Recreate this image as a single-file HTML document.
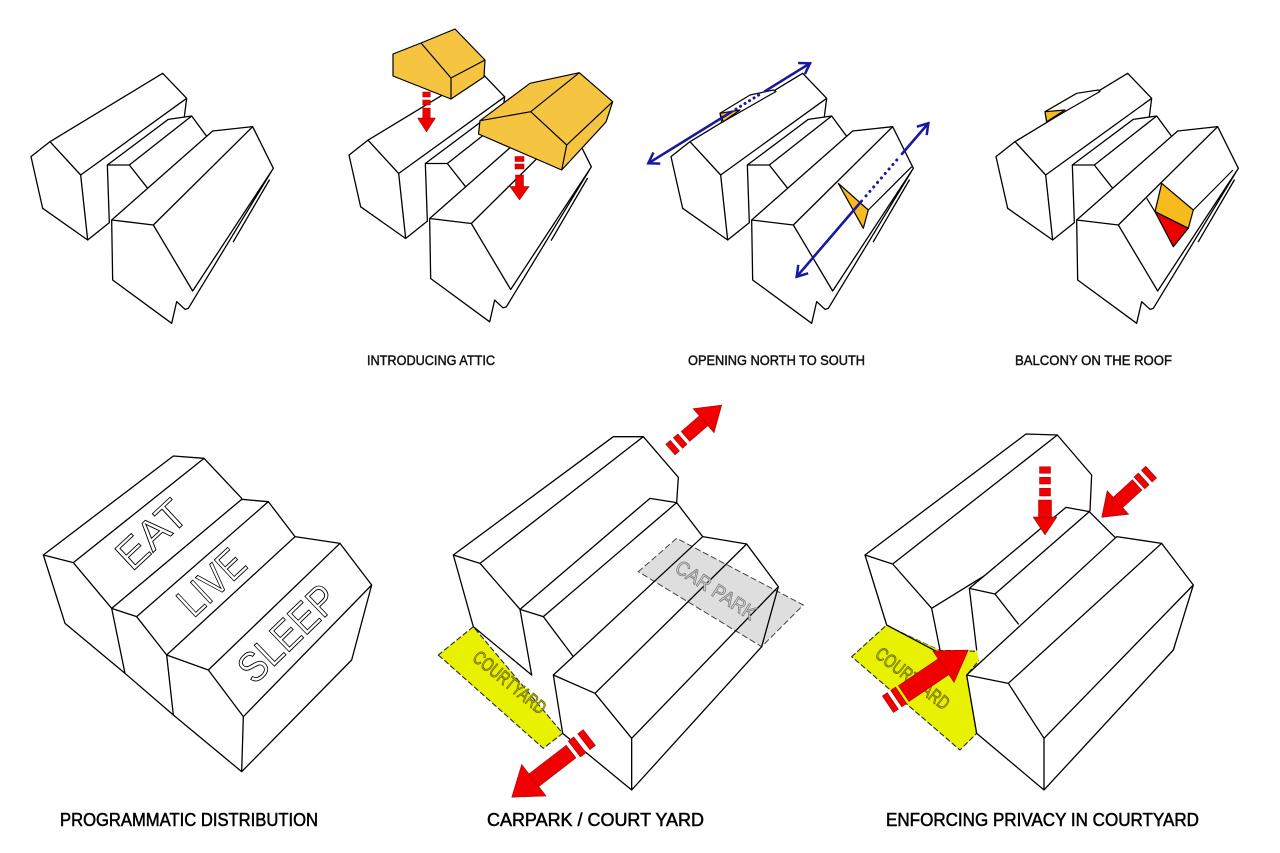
<!DOCTYPE html>
<html><head><meta charset="utf-8"><style>
html,body{margin:0;padding:0;background:#fff;}
svg{display:block;}
text{font-family:"Liberation Sans",sans-serif;}
</style></head><body>
<svg width="1280" height="853" viewBox="0 0 1280 853" xmlns="http://www.w3.org/2000/svg">
<defs>
<path id="bld" fill="none" stroke="#000" stroke-width="3.9" stroke-linejoin="round" stroke-linecap="round" d="M90,245 L428,40 L500,115 L182,345 Z M90,245 L33,290 L68,445 L203,540 L182,345 M203,540 L268,488 M500,115 L493,170 M262,315 L328,315 L383,385 M262,315 L268,488 M262,315 L445,178 L515,168 L560,229 M328,315 L515,168 M275,480 L400,495 L518,693 M275,480 L278,660 L455,790 L470,725 L495,748 L505,745 M275,480 L578,213 L698,200 L760,325 L518,693 M400,495 L698,200 M760,325 L505,745 M748,360 L640,545"/>
<marker id="bh" markerUnits="userSpaceOnUse" markerWidth="16" markerHeight="16" refX="13" refY="8" orient="auto-start-reverse" viewBox="0 0 16 16"><path d="M3,1.5 L13,8 L3,14.5" fill="none" stroke="#1818a0" stroke-width="2.5"/></marker>
</defs>
<rect width="1280" height="853" fill="#fff"/>

<!-- Diagram 1 -->
<use href="#bld" transform="translate(20,60) scale(0.33333)"/>

<!-- Diagram 2 -->
<use href="#bld" transform="translate(338,58.5) scale(0.33333)"/>
<g stroke="#000" stroke-width="1.2" stroke-linejoin="round">
<polygon points="393,54 421,43 455,29 485,60 484,77 451,99 393,76" fill="#f5c542"/>
<path d="M421,43 L451,78 L485,60 M451,78 L451,99" fill="none"/>
<polygon points="480,120.7 530,83.3 579.3,72.7 612.7,101.7 606,122 561.7,170 478.5,134" fill="#f5c542"/>
<path d="M480,120.7 L530.7,111.7 L579.3,72.7 M530.7,111.7 L566.7,145 L612.7,101.7 M566.7,145 L561.7,170" fill="none"/>
</g>
<g fill="#f00000" stroke="#9a0000" stroke-width="0.5">
<g transform="translate(426.5,132) rotate(90)">
<polygon points="0,0 -14,9 -14,-9"/><rect x="-24" y="-3.75" width="10.5" height="7.5"/><rect x="-32" y="-3.75" width="5" height="7.5"/><rect x="-40" y="-3.75" width="5" height="7.5"/>
</g>
<g transform="translate(519.5,200) rotate(90)">
<polygon points="0,0 -13.5,9.75 -13.5,-9.75"/><rect x="-25" y="-4" width="12" height="8"/><rect x="-36" y="-4.5" width="5" height="9"/><rect x="-43.5" y="-4.5" width="5" height="9"/>
</g>
</g>

<!-- Diagram 3 -->
<use href="#bld" transform="translate(660,60) scale(0.33333)"/>
<g stroke="#000" stroke-width="1.2" stroke-linejoin="round">
<polygon points="721.7,122.5 720,113.3 750,95 773.3,90 776,91.5" fill="#fff"/>
<polygon points="720,113.3 740,110 723.3,121.7" fill="#f7bb1e"/>
<polygon points="838.3,183.3 868.3,210 863.3,228.3" fill="#f7bb1e"/>
<path d="M868.3,210 L911.7,166.7" fill="none"/>
</g>
<g stroke="#1818a0" stroke-width="2.6" fill="none" stroke-linecap="round">
<path d="M648.3,163.3 L731.7,111.7" marker-start="url(#bh)"/>
<path d="M736,109.1 L762,93" stroke-dasharray="0.1 5.2" stroke-width="3"/>
<path d="M765,91.2 L810,63.3" marker-end="url(#bh)"/>
<path d="M796.7,276.7 L861.7,200.9" marker-start="url(#bh)"/>
<path d="M866,195.9 L899,157.4" stroke-dasharray="0.1 5.8" stroke-width="3"/>
<path d="M902,153.9 L928.3,123.3" marker-end="url(#bh)"/>
</g>

<!-- Diagram 4 -->
<use href="#bld" transform="translate(985,60) scale(0.33333)"/>
<g stroke="#000" stroke-width="1.2" stroke-linejoin="round">
<polygon points="1046.7,122 1045,111.7 1076.7,93.3 1098.3,90 1100,91.5" fill="#fff"/>
<polygon points="1045,111.7 1065,110 1046.7,121.7" fill="#f7bb1e"/>
<path d="M1146.7,198.3 L1155,211.7 M1193.3,210 L1233,170" fill="none"/>
<polygon points="1161.7,183.3 1193.3,210 1188.3,228.3 1155,211.7" fill="#f7bb1e"/>
<polygon points="1155,211.7 1188.3,228.3 1173.3,246.7" fill="#ee0000"/>
</g>

<!-- Top labels -->
<g font-size="13.5" fill="#111" stroke="#111" stroke-width="0.45">
<text x="367" y="365" textLength="128" lengthAdjust="spacingAndGlyphs">INTRODUCING ATTIC</text>
<text x="688" y="365" textLength="177" lengthAdjust="spacingAndGlyphs">OPENING NORTH TO SOUTH</text>
<text x="1015" y="365" textLength="157" lengthAdjust="spacingAndGlyphs">BALCONY ON THE ROOF</text>
</g>

<!-- Diagram 5 -->
<g transform="translate(30,440) scale(0.33333)">
<path fill="none" stroke="#000" stroke-width="3.9" stroke-linejoin="round" stroke-linecap="round" d="M40,345 L430,48 L522,55 L635,175 M40,345 L130,368 L522,55 M40,345 L105,550 L285,700 L430,825 L635,995 M130,368 L245,505 M245,505 L635,178 L715,185 L795,290 M245,505 L320,530 L715,185 M245,505 L285,700 M320,530 L410,645 M410,645 L795,290 L930,310 L1025,435 L640,830 M410,645 L535,690 L930,310 M535,690 L640,830 L635,995 M410,645 L430,825 M1025,435 L965,660 L635,995"/>
</g>
<g fill="#fff" stroke="#000" stroke-width="0.9" font-size="42">
<g transform="translate(151,534) rotate(-43)"><text x="0" y="15" text-anchor="middle" textLength="80" lengthAdjust="spacingAndGlyphs">EAT</text></g>
<g transform="translate(211,582) rotate(-43)"><text x="0" y="15" text-anchor="middle" textLength="76" lengthAdjust="spacingAndGlyphs">LIVE</text></g>
<g transform="translate(287,633) rotate(-44)"><text x="0" y="15" text-anchor="middle" textLength="120" lengthAdjust="spacingAndGlyphs">SLEEP</text></g>
</g>

<!-- Diagram 6 -->
<g transform="translate(420,390) scale(0.33333)" stroke-linejoin="round" stroke-linecap="round">
<polygon points="55,795 160,710 428,1030 370,1075" fill="#e8f200" stroke="#333" stroke-width="3.5" stroke-dasharray="14 10"/>
<polygon points="100,495 580,140 670,140 775,262 770,338 335,855 160,710" fill="#fff"/>
<path fill="none" stroke="#000" stroke-width="3.9" d="M160,710 L100,495 L580,140 L670,140 L775,262 L770,338 M100,495 L180,520 L670,140 M180,520 L300,658 M160,710 L335,855"/>
<polygon points="300,658 690,325 770,338 848,440 420,860 335,855" fill="#fff"/>
<path fill="none" stroke="#000" stroke-width="3.9" d="M335,855 L300,658 L690,325 L770,338 L848,440 M300,658 L370,680 L770,338 M370,680 L460,800"/>
<polygon points="400,855 848,440 980,462 1075,590 1025,770 635,1200 428,1030" fill="#fff"/>
<path fill="none" stroke="#000" stroke-width="3.9" d="M428,1030 L400,855 L848,440 L980,462 L1075,590 L1025,770 L635,1200 L428,1030 M400,855 L525,910 L980,462 M525,910 L635,1045 L1075,590 M635,1045 L635,1200"/>
<polygon points="655,545 770,445 1150,645 1025,770" fill="#dedede" style="mix-blend-mode:multiply" stroke="#444" stroke-width="3" stroke-dasharray="16 11"/>
</g>
<g transform="translate(716,590) rotate(33)"><text x="0" y="7" text-anchor="middle" font-size="20" fill="#dadada" stroke="#7a7a7a" stroke-width="0.8" textLength="92" lengthAdjust="spacingAndGlyphs">CAR PARK</text></g>
<g transform="translate(510,682) rotate(39)"><text x="0" y="7" text-anchor="middle" font-size="19" fill="#b8ba00" stroke="#6a6a00" stroke-width="0.8" textLength="88" lengthAdjust="spacingAndGlyphs">COURTYARD</text></g>
<g fill="#f00000" stroke="#9a0000" stroke-width="0.5">
<g transform="translate(721.7,405) rotate(-41)">
<polygon points="0,0 -24,16 -24,-16"/><rect x="-48" y="-6.5" width="24.5" height="13"/><rect x="-58" y="-7" width="6" height="14"/><rect x="-68" y="-7" width="6" height="14"/>
</g>
<g transform="translate(511.7,797.3) rotate(142.4)">
<polygon points="0,0 -28,20 -28,-20"/><rect x="-75" y="-8" width="47.5" height="16"/><rect x="-86" y="-10" width="7" height="20"/><rect x="-98" y="-10" width="7" height="20"/>
</g>
</g>

<!-- Diagram 7 -->
<g transform="translate(840,420) scale(0.33333)" stroke-linejoin="round" stroke-linecap="round">
<polygon points="35,710 140,615 300,690 440,695 380,765 410,940 360,990" fill="#e8f200" stroke="#333" stroke-width="3.5" stroke-dasharray="14 10"/>
<polygon points="75,405 558,42 652,45 755,165 750,272 410,690 300,690 140,615" fill="#fff"/>
<path fill="none" stroke="#000" stroke-width="3.9" d="M140,615 L75,405 L558,42 L652,45 L755,165 L750,272 M75,405 L158,432 L652,45 M158,432 L275,565 L300,690 M140,615 L300,700 M275,565 L750,272"/>
<polygon points="388,505 678,262 748,275 825,352 420,735 410,690" fill="#fff"/>
<path fill="none" stroke="#000" stroke-width="3.9" d="M410,690 L388,505 L678,262 L748,275 L825,352 M388,505 L465,522 L748,275 M465,522 L535,612"/>
<polygon points="380,765 830,350 965,370 1060,495 1000,690 612,1110 410,940" fill="#fff"/>
<path fill="none" stroke="#000" stroke-width="3.9" d="M410,940 L380,765 L830,350 L965,370 L1060,495 L1000,690 L612,1110 L410,940 M380,765 L505,790 L965,370 M505,790 L612,955 L1060,495 M612,955 L612,1110"/>
</g>
<g transform="translate(913,678) rotate(38)"><text x="0" y="7" text-anchor="middle" font-size="19" fill="#b8ba00" stroke="#6a6a00" stroke-width="0.8" textLength="88" lengthAdjust="spacingAndGlyphs">COURTYARD</text></g>
<g fill="#f00000" stroke="#9a0000" stroke-width="0.5">
<g transform="translate(968.3,650) rotate(-34)">
<polygon points="0,0 -30,19 -30,-19"/><rect x="-78" y="-9.5" width="48.5" height="19"/><rect x="-87" y="-10" width="6" height="20"/><rect x="-97" y="-10" width="6" height="20"/>
</g>
<g transform="translate(1045,535) rotate(90)">
<polygon points="0,0 -18,12 -18,-12"/><rect x="-35" y="-6.5" width="17.5" height="13"/><rect x="-46.7" y="-5.5" width="7.7" height="11"/><rect x="-57.7" y="-5.5" width="6.7" height="11"/><rect x="-68.3" y="-5.5" width="6.6" height="11"/>
</g>
<g transform="translate(1101.7,517.3) rotate(137.6)">
<polygon points="0,0 -22,16 -22,-16"/><rect x="-48" y="-7" width="26.5" height="14"/><rect x="-57" y="-8" width="6" height="16"/><rect x="-67" y="-8" width="6" height="16"/>
</g>
</g>

<!-- Bottom labels -->
<g font-size="18" fill="#000" stroke="#000" stroke-width="0.5">
<text x="60" y="826" textLength="258" lengthAdjust="spacingAndGlyphs">PROGRAMMATIC DISTRIBUTION</text>
<text x="487" y="826" textLength="217" lengthAdjust="spacingAndGlyphs">CARPARK / COURT YARD</text>
<text x="886" y="826" textLength="313" lengthAdjust="spacingAndGlyphs">ENFORCING PRIVACY IN COURTYARD</text>
</g>
</svg>
</body></html>
